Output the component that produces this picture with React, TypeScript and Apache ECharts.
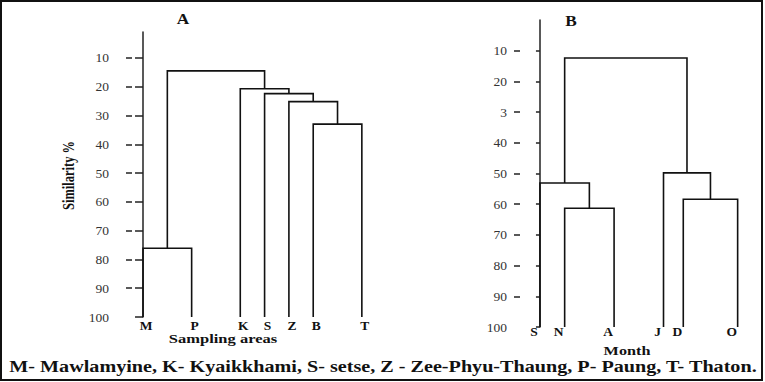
import React, { useEffect, useRef } from "react";
import * as echarts from "echarts";

// Panel A: sampling areas
const leavesA = ["M", "P", "K", "S", "Z", "B", "T"];
const leafPosA = [0, 2, 4, 5, 6, 7, 9];
// merges: [childA, childB, similarity height]; new node ids start after leaves
const mergesA: [number, number, number][] = [
  [0, 1, 76.1],
  [5, 6, 33.0],
  [4, 8, 25.2],
  [3, 9, 22.4],
  [2, 10, 20.7],
  [7, 11, 14.5],
];
const tickValsA = [10, 20, 30, 40, 50, 60, 70, 80, 90, 100];
const tickLabelsA = ["10", "20", "30", "40", "50", "60", "70", "80", "90", "100"];

// Panel B: months
const leavesB = ["S", "N", "A", "J", "D", "O"];
const leafPosB = [0, 1, 3, 5, 5.8, 8];
const mergesB: [number, number, number][] = [
  [1, 2, 61.3],
  [0, 6, 53.1],
  [4, 5, 58.4],
  [3, 8, 49.8],
  [7, 9, 12.4],
];
const tickValsB = [10, 20, 30, 40, 50, 60, 70, 80, 90, 100];
const tickLabelsB = ["10", "20", "3", "40", "50", "60", "70", "80", "90", "100"];

const caption =
  "M- Mawlamyine, K- Kyaikkhami, S- setse, Z - Zee-Phyu-Thaung, P- Paung, T- Thaton.";

function buildLinks(pos: number[], merges: [number, number, number][]) {
  const x = pos.slice();
  const h = pos.map(() => 100);
  const out: number[][] = [];
  merges.forEach(([a, b, height]) => {
    out.push([x[a], h[a], x[b], h[b], height]);
    x.push((x[a] + x[b]) / 2);
    h.push(height);
  });
  return out;
}

const serif = "'Liberation Serif', 'DejaVu Serif', serif";

function renderLink(params: any, api: any) {
  const p1 = api.coord([api.value(0), api.value(1)]);
  const p2 = api.coord([api.value(0), api.value(4)]);
  const p3 = api.coord([api.value(2), api.value(4)]);
  const p4 = api.coord([api.value(2), api.value(3)]);
  return {
    type: "polyline",
    shape: { points: [p1, p2, p3, p4] },
    style: { stroke: "#111", lineWidth: 1.6, fill: null },
  };
}

export default function App() {
  const ref = useRef<HTMLDivElement>(null);
  useEffect(() => {
    if (!ref.current) return;
    const chart = echarts.init(ref.current, null, { renderer: "svg" });
    const axisColor = "#222";
    const yMain = (grid: number, min: number, vals: number[], labels: string[], margin: number, pad: number[], outLen: number) => ({
      gridIndex: grid,
      type: "value",
      position: "left",
      inverse: true,
      min,
      max: 100,
      axisLine: { show: true, lineStyle: { color: axisColor, width: 1.5 } },
      axisTick: { show: true, customValues: vals, length: outLen, lineStyle: { color: axisColor, width: 1.5 } },
      axisLabel: {
        customValues: vals,
        formatter: (v: number) => labels[vals.indexOf(v)] ?? "",
        margin,
        padding: pad,
        fontFamily: serif,
        fontSize: 13.5,
        color: "#333",
      },
      splitLine: { show: false },
    });
    const yInner = (grid: number, min: number, vals: number[], len: number) => ({
      gridIndex: grid,
      type: "value",
      position: "left",
      inverse: true,
      min,
      max: 100,
      axisLine: { show: false },
      axisLabel: { show: false },
      splitLine: { show: false },
      axisTick: { show: true, inside: true, customValues: vals.slice(0, vals.length - 1), length: len, lineStyle: { color: axisColor, width: 1.5 } },
    });
    const xAxis = (grid: number, min: number, max: number, pos: number[], names: string[], margin: number, pad: number[]) => ({
      gridIndex: grid,
      type: "value",
      min,
      max,
      axisLine: { show: false },
      axisTick: { show: false },
      splitLine: { show: false },
      axisLabel: {
        customValues: pos,
        formatter: (v: number) => names[pos.indexOf(v)] ?? "",
        margin,
        padding: pad,
        fontFamily: serif,
        fontWeight: "bold",
        fontSize: 13.5,
        color: "#111",
      },
    });
    const txt = (text: string, x: number, y: number, size: number, sx: number, rotation = 0) => ({
      type: "text",
      x,
      y,
      rotation,
      scaleX: sx,
      style: { text, font: `bold ${size}px ${serif}`, fill: "#111", align: "center", verticalAlign: "middle" },
    });
    chart.setOption({
      animation: false,
      backgroundColor: "#fff",
      grid: [
        { left: 126, top: 32, width: 248, height: 285 },
        { left: 514, top: 20, width: 236, height: 307 },
      ],
      xAxis: [
        xAxis(0, -0.7, 9.5, leafPosA, leavesA, 1, [0, 0, 0, 6]),
        xAxis(1, -1.05, 8.5, leafPosB, leavesB, -3, [0, 12, 0, 0]),
      ],
      yAxis: [
        yMain(0, 1, tickValsA, tickLabelsA, 17, [0, 0, 0, 0], 8),
        yInner(0, 1, tickValsA, 6),
        yMain(1, 0, tickValsB, tickLabelsB, 7, [0, 0, 8, 0], 4),
        yInner(1, 0, tickValsB, 6),
      ],
      series: [
        {
          type: "custom",
          xAxisIndex: 0,
          yAxisIndex: 0,
          renderItem: renderLink,
          encode: { x: [0, 2], y: [1, 3, 4] },
          data: buildLinks(leafPosA, mergesA),
        },
        {
          type: "custom",
          xAxisIndex: 1,
          yAxisIndex: 2,
          renderItem: renderLink,
          encode: { x: [0, 2], y: [1, 3, 4] },
          data: buildLinks(leafPosB, mergesB),
        },
      ],
      graphic: [
        { type: "rect", shape: { x: 1, y: 1, width: 761, height: 379 }, style: { fill: null, stroke: "#111", lineWidth: 2 }, silent: true },
        txt("A", 183, 18.5, 15, 1.15),
        txt("B", 571, 21, 15, 1.15),
        txt("Similarity %", 68.5, 175.5, 16, 0.78, Math.PI / 2),
        txt("Sampling areas", 223, 339, 13, 1.27),
        txt("Month", 627, 350.5, 12, 1.35),
        txt(caption, 383, 366.5, 16, 1.26),
      ],
    });
    return () => chart.dispose();
  }, []);
  return (
    <div
      ref={ref}
      style={{ position: "absolute", left: 0, top: 0, width: 765, height: 382, background: "#fff" }}
    />
  );
}
